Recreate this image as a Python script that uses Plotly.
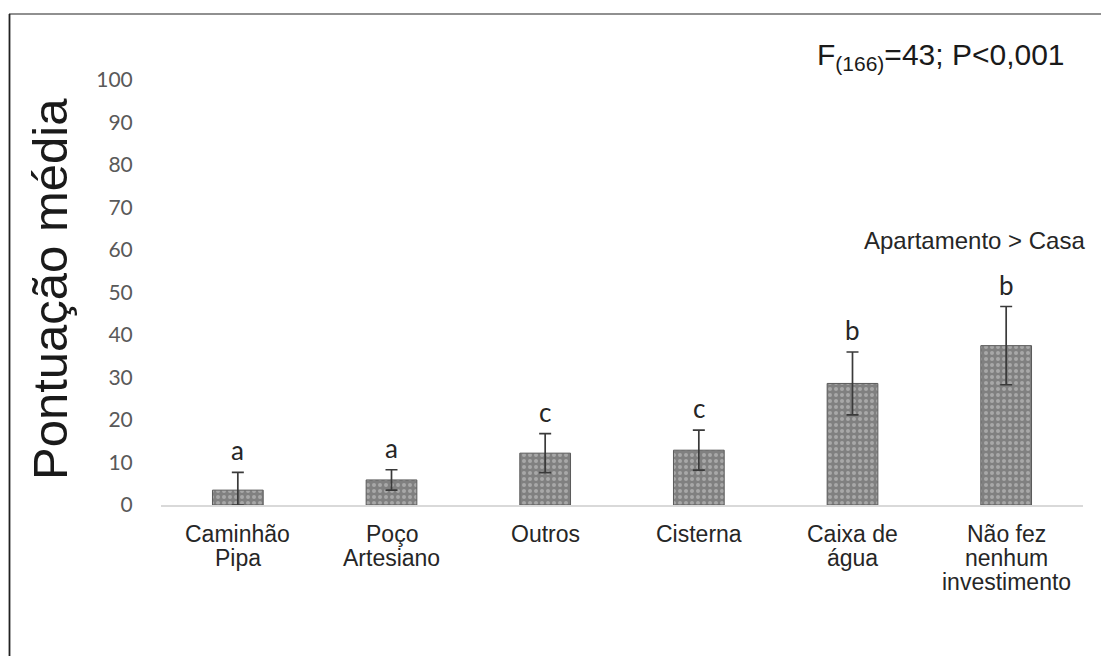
import plotly.graph_objects as go

# Mean score per type of water investment, with error half-widths and group letters
categories = ["Caminhão Pipa", "Poço Artesiano", "Outros", "Cisterna",
              "Caixa de água", "Não fez nenhum investimento"]
category_lines = [["Caminhão", "Pipa"], ["Poço", "Artesiano"], ["Outros"], ["Cisterna"],
                  ["Caixa de", "água"], ["Não fez", "nenhum", "investimento"]]
means = [3.5, 5.9, 12.2, 12.9, 28.6, 37.5]
errors = [4.2, 2.4, 4.6, 4.7, 7.4, 9.2]
letters = ["a", "a", "c", "c", "b", "b"]
y_ticks = [0, 10, 20, 30, 40, 50, 60, 70, 80, 90, 100]

W, H = 1101, 656
L, R, T, B = 161, 1083, 80, 505  # plot area in pixels

errors_minus = [min(e, m) for e, m in zip(errors, means)]

fig = go.Figure()
fig.add_trace(go.Bar(
    x=categories,
    y=means,
    width=0.33,
    marker=dict(
        color="#808080",
        line=dict(color="#5a5a5a", width=1),
        pattern=dict(shape=".", fgcolor="#cfcfcf", bgcolor="#808080",
                     size=6, solidity=0.35),
    ),
    error_y=dict(type="data", array=errors, arrayminus=errors_minus,
                 symmetric=False, color="#3a3a3a", thickness=1.7, width=6),
    showlegend=False,
))

# Group letters above each error bar
for cat, m, e, lt in zip(categories, means, errors, letters):
    fig.add_annotation(x=cat, y=m + e, text=lt, showarrow=False,
                       yanchor="bottom", yshift=4,
                       font=dict(family="Lato", size=26, color="#262626"))

# Category labels, one line at a time for tight line spacing
for cat, lines in zip(categories, category_lines):
    for i, line in enumerate(lines):
        fig.add_annotation(x=cat, y=0, text=line, showarrow=False,
                           yanchor="middle", yshift=-(29 + 24 * i),
                           font=dict(family="Liberation Sans, Arial", size=23,
                                     color="#262626"))

def px_x(p):
    return (p - L) / (R - L)

def px_y(p):
    return (B - p) / (B - T)

# Axis title
fig.add_annotation(xref="paper", yref="paper", x=px_x(50), y=px_y(289),
                   text="Pontuação média", textangle=-90, showarrow=False,
                   xanchor="center", yanchor="middle",
                   font=dict(family="Liberation Sans, Arial", size=49, color="#1a1a1a"))

# Statistics
fig.add_annotation(xref="paper", yref="paper", x=px_x(815), y=px_y(56),
                   text="F<sub>(166)</sub>=43; P&lt;0,001", showarrow=False,
                   xanchor="left", yanchor="middle",
                   font=dict(family="Liberation Sans, Arial", size=30, color="#1a1a1a"))
fig.add_annotation(xref="paper", yref="paper", x=px_x(1087), y=px_y(240),
                   text="Apartamento &gt; Casa", showarrow=False,
                   xanchor="right", yanchor="middle",
                   font=dict(family="Liberation Sans, Arial", size=24, color="#262626"))

# Outer frame lines (top and left)
fig.add_shape(type="line", xref="paper", yref="paper",
              x0=px_x(9), x1=px_x(W + 5), y0=px_y(14), y1=px_y(14),
              line=dict(color="#6b6b6b", width=1.5))
fig.add_shape(type="line", xref="paper", yref="paper",
              x0=px_x(9.5), x1=px_x(9.5), y0=px_y(14), y1=px_y(H + 5),
              line=dict(color="#222222", width=1.8))

fig.update_layout(
    width=W, height=H,
    margin=dict(l=L, r=W - R, t=T, b=H - B, pad=0),
    paper_bgcolor="white", plot_bgcolor="white",
    xaxis=dict(showline=True, linecolor="#d9d9d9", linewidth=1.5,
               showgrid=False, showticklabels=False, ticks="",
               fixedrange=True),
    yaxis=dict(range=[0, 100], tickvals=y_ticks, showgrid=False, showline=False,
               zeroline=False, ticks="outside", ticklen=23, tickcolor="rgba(0,0,0,0)",
               tickfont=dict(family="Lato", size=21, color="#595959"),
               fixedrange=True),
)

fig.write_html("out.html")
